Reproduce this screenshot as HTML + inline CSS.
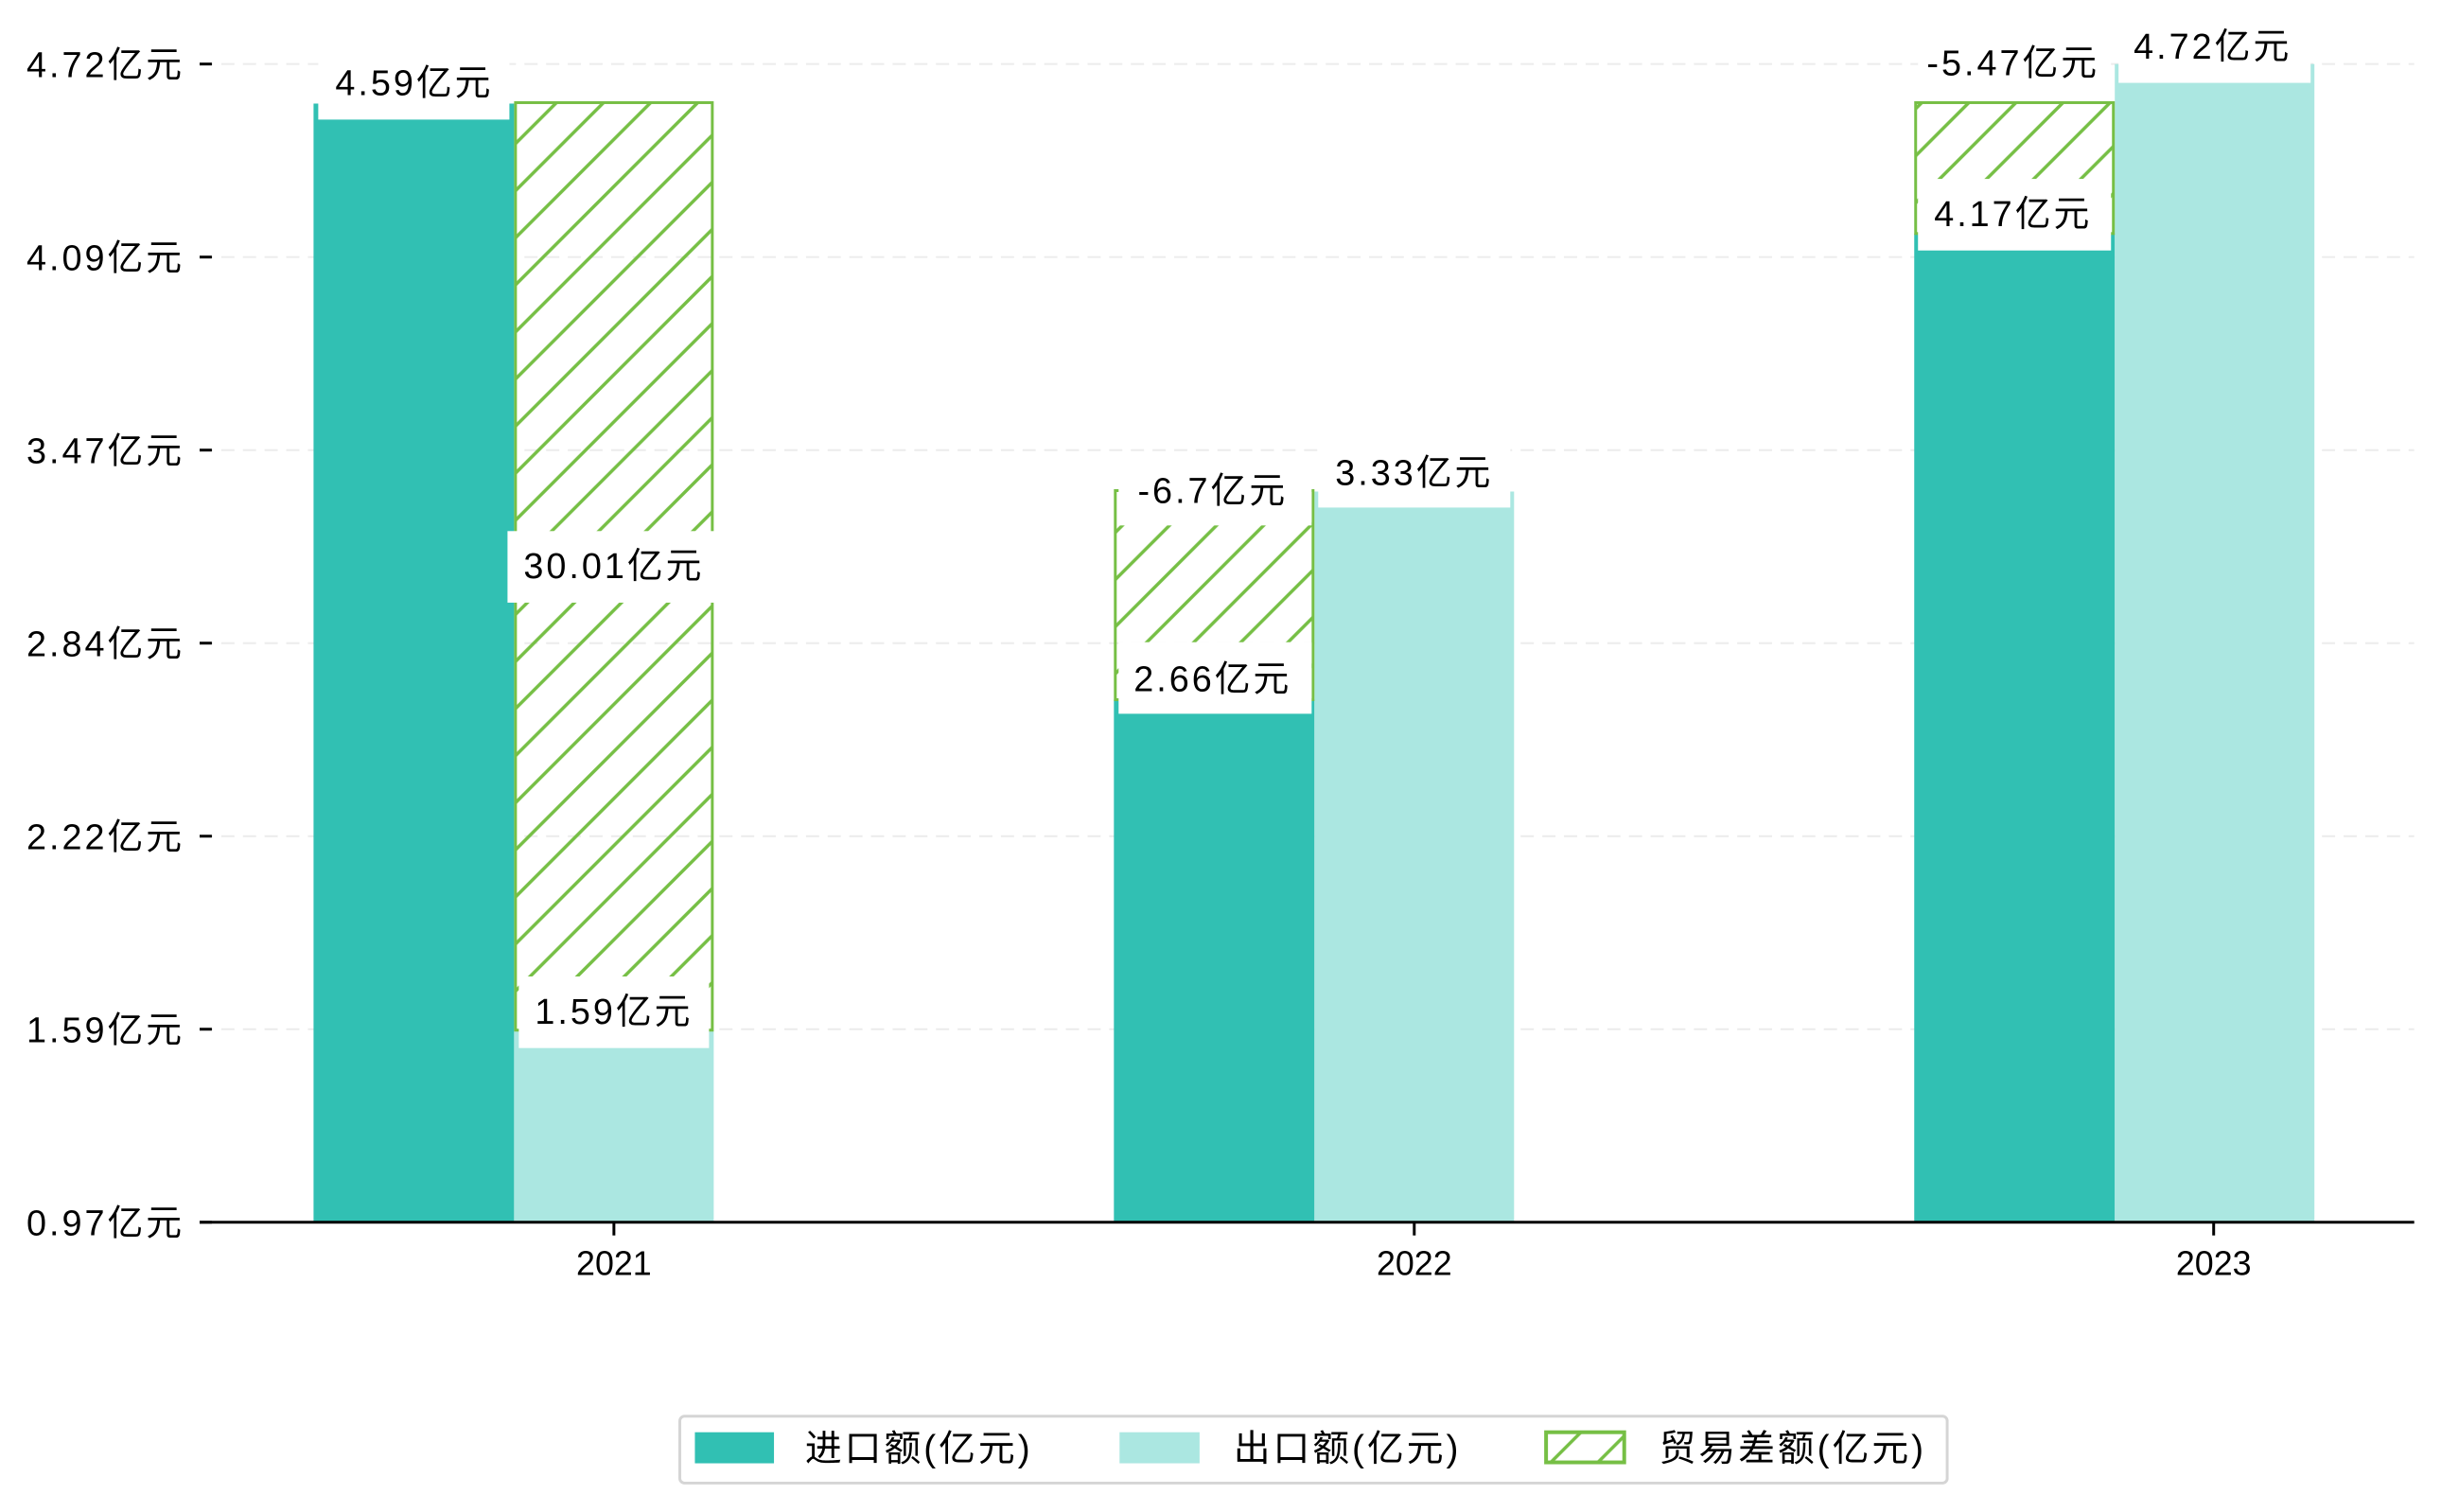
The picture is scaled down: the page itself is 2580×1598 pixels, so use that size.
<!DOCTYPE html>
<html><head><meta charset="utf-8"><style>
html,body{margin:0;padding:0;background:#fff;}
svg{display:block;}
text{font-family:"Liberation Sans","Noto Sans CJK SC",sans-serif;fill:#000;}
.lbl{font-family:"Noto Sans CJK SC","WenQuanYi Zen Hei",sans-serif;font-size:38px;letter-spacing:3px;}
.tk{font-family:"Noto Sans CJK SC","WenQuanYi Zen Hei",sans-serif;font-size:38px;letter-spacing:3px;}
.lg{font-family:"Noto Sans CJK SC","WenQuanYi Zen Hei",sans-serif;font-size:39px;letter-spacing:3px;}
</style></head><body>
<svg width="2580" height="1598" viewBox="0 0 2580 1598" xmlns="http://www.w3.org/2000/svg">
<defs>
<pattern id="h" patternUnits="userSpaceOnUse" width="50" height="50">
<path d="M-5,5 L5,-5 M0,50 L50,0 M45,55 L55,45" stroke="#76bf45" stroke-width="3.5"/>
</pattern>
</defs>
<rect width="2580" height="1598" fill="#fff"/>
<g transform="scale(0.9952)">
<g stroke="#ececec" stroke-width="2" stroke-dasharray="14 9">
<line x1="212" x2="2564" y1="68" y2="68"/>
<line x1="212" x2="2564" y1="273" y2="273"/>
<line x1="212" x2="2564" y1="478" y2="478"/>
<line x1="212" x2="2564" y1="683" y2="683"/>
<line x1="212" x2="2564" y1="888" y2="888"/>
<line x1="212" x2="2564" y1="1093" y2="1093"/>
</g>
<g stroke="#000" stroke-width="3">
<line x1="212" x2="225" y1="68" y2="68"/>
<line x1="212" x2="225" y1="273" y2="273"/>
<line x1="212" x2="225" y1="478" y2="478"/>
<line x1="212" x2="225" y1="683" y2="683"/>
<line x1="212" x2="225" y1="888" y2="888"/>
<line x1="212" x2="225" y1="1093" y2="1093"/>
<line x1="212" x2="225" y1="1298" y2="1298"/>
</g>
<g class="tk" text-anchor="end">
<text x="196" y="82">4.72亿元</text>
<text x="196" y="287">4.09亿元</text>
<text x="196" y="492">3.47亿元</text>
<text x="196" y="697">2.84亿元</text>
<text x="196" y="902">2.22亿元</text>
<text x="196" y="1107">1.59亿元</text>
<text x="196" y="1312">0.97亿元</text>
</g>
<rect x="333" y="110" width="213" height="1188" fill="#31c0b3"/>
<rect x="546" y="1094" width="212" height="204" fill="#abe7e1"/>
<rect x="547.5" y="109" width="209" height="985" fill="url(#h)" stroke="#76bf45" stroke-width="3"/>
<rect x="1183" y="743" width="213" height="555" fill="#31c0b3"/>
<rect x="1396" y="522" width="212" height="776" fill="#abe7e1"/>
<rect x="1184.5" y="521" width="210" height="222" fill="url(#h)" stroke="#76bf45" stroke-width="3"/>
<rect x="2033" y="248" width="213" height="1050" fill="#31c0b3"/>
<rect x="2246" y="68" width="212" height="1230" fill="#abe7e1"/>
<rect x="2034.5" y="109" width="210" height="139" fill="url(#h)" stroke="#76bf45" stroke-width="3"/>
<g fill="#fff">
<rect x="338" y="51" width="203" height="76"/>
<rect x="539" y="564" width="225" height="76"/>
<rect x="551" y="1037" width="202" height="76"/>
<rect x="1188" y="482" width="205" height="76"/>
<rect x="1400" y="463" width="204" height="76"/>
<rect x="1188" y="682" width="205" height="76"/>
<rect x="2037" y="30" width="205" height="76"/>
<rect x="2037" y="190" width="205" height="76"/>
<rect x="2250" y="12" width="204" height="76"/>
</g>
<g class="lbl" text-anchor="middle" dominant-baseline="central">
<text x="440" y="89">4.59亿元</text>
<text x="652" y="602">30.01亿元</text>
<text x="652" y="1075">1.59亿元</text>
<text x="1288" y="522">-6.7亿元</text>
<text x="1502" y="503">3.33亿元</text>
<text x="1288" y="722">2.66亿元</text>
<text x="2138" y="68">-5.47亿元</text>
<text x="2138" y="228">4.17亿元</text>
<text x="2350" y="50">4.72亿元</text>
</g>
<line x1="212" x2="2564" y1="1298" y2="1298" stroke="#000" stroke-width="3"/>
<g stroke="#000" stroke-width="3">
<line x1="652" x2="652" y1="1298" y2="1312"/>
<line x1="1502" x2="1502" y1="1298" y2="1312"/>
<line x1="2351" x2="2351" y1="1298" y2="1312"/>
</g>
<g font-size="36" text-anchor="middle">
<text x="652" y="1354">2021</text>
<text x="1502" y="1354">2022</text>
<text x="2351" y="1354">2023</text>
</g>
<rect x="722" y="1504" width="1346" height="71" rx="5" fill="#fff" stroke="#d5d5d5" stroke-width="3"/>
<rect x="738" y="1521" width="84" height="33" fill="#31c0b3"/>
<rect x="1189" y="1521" width="85" height="33" fill="#abe7e1"/>
<rect x="1642" y="1521" width="83" height="32" fill="url(#h)" stroke="#76bf45" stroke-width="4"/>
<g class="lg" dominant-baseline="central">
<text x="855" y="1539">进口额(亿元)</text>
<text x="1310" y="1539">出口额(亿元)</text>
<text x="1762" y="1539">贸易差额(亿元)</text>
</g>
</g>
</svg>
</body></html>
